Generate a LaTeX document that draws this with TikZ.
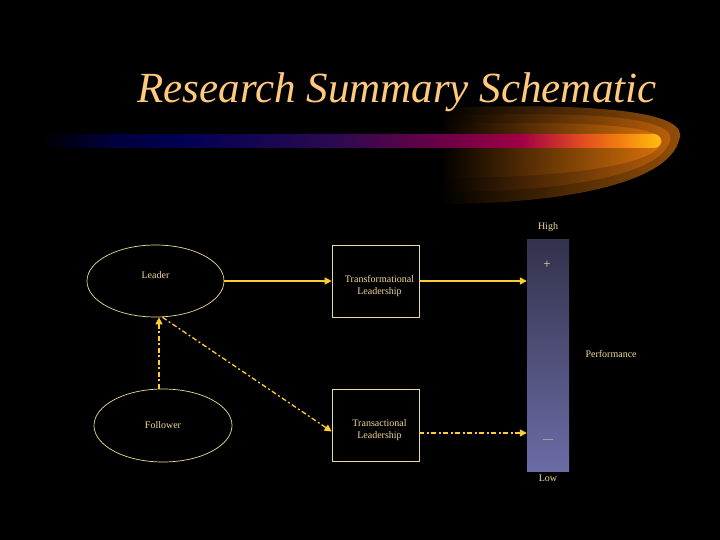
\documentclass[tikz,border=0pt]{standalone}
\usepackage{fontspec}
\setmainfont{Liberation Serif}
\usepackage{xcolor}
\usetikzlibrary{shapes.geometric,arrows.meta}

\definecolor{titlecol}{HTML}{FFC97E}
\definecolor{txtcol}{HTML}{F2D99A}
\definecolor{linecol}{HTML}{EEDB96}
\definecolor{arrcol}{HTML}{FFCC33}
\definecolor{bartop}{HTML}{32324C}
\definecolor{barbot}{HTML}{6C6CA6}
\definecolor{glowA}{HTML}{9A5208}
\definecolor{glowB}{HTML}{BE620A}
\definecolor{glowC}{HTML}{DA720A}
\definecolor{swnavyA}{HTML}{00003A}
\definecolor{swnavyB}{HTML}{000052}
\definecolor{swpurp}{HTML}{2A0A50}
\definecolor{swplum}{HTML}{700045}
\definecolor{swcrim}{HTML}{A00045}
\definecolor{swred}{HTML}{E04A20}
\definecolor{sworng}{HTML}{F58010}
\definecolor{swgold}{HTML}{FFBE10}

\pgfdeclarehorizontalshading{swoosh}{100bp}{color(0bp)=(black); color(25bp)=(black);
  color(30.6bp)=(swnavyA); color(36.3bp)=(swnavyB); color(48.4bp)=(swpurp);
  color(58bp)=(swplum); color(63.7bp)=(swcrim); color(68.5bp)=(swred);
  color(71.8bp)=(sworng); color(75bp)=(swgold); color(100bp)=(swgold)}

\begin{document}
\begin{tikzpicture}[x=1pt, y=-1pt,
    every node/.style={text=txtcol, font=\fontsize{10}{11.5}\selectfont, align=center},
    oval/.style={draw=linecol, ellipse, line width=0.7pt, inner sep=0pt},
    box/.style={draw=linecol, rectangle, line width=0.7pt, inner sep=0pt, minimum width=87pt, minimum height=72pt},
    arr/.style={draw=arrcol, line width=1.3pt, -{Triangle[length=7pt,width=7pt]}},
    darr/.style={arr, dash pattern=on 5pt off 2.5pt on 2pt off 2.5pt}]
    \fill[black] (0,0) rectangle (720,540);

    % swoosh and title
    \shade[left color=black, right color=glowA] (440,108) .. controls (600,102) and (692,112) .. (679,140)
        .. controls (668,184) and (560,204) .. (440,204) -- cycle;
    \shade[left color=black, right color=glowB] (440,116) .. controls (595,110) and (678,118) .. (670,141)
        .. controls (660,176) and (560,192) .. (440,192) -- cycle;
    \shade[left color=black, right color=glowC] (440,124) .. controls (590,120) and (664,126) .. (662,142)
        .. controls (656,166) and (560,178) .. (440,178) -- cycle;
    \shade[shading=swoosh, rounded corners=7pt] (40,134) rectangle (661,148);
    \node[text=titlecol, font=\fontsize{43}{48}\selectfont\itshape] (title) at (397,92) {Research Summary Schematic};

    % nodes
    \node[oval, minimum width=137pt, minimum height=72pt] (leader) at (155.5,281) {};
    \node at ([yshift=6pt]leader.center) {Leader};
    \node[oval, minimum width=138pt, minimum height=73pt] (follower) at (163,425.5) {};
    \node at (follower.center) {Follower};
    \node[box] (transf) at (375.5,281) {};
    \node at ([xshift=4pt,yshift=-5pt]transf.center) {Transformational\\Leadership};
    \node[box] (transc) at (375.5,425.5) {};
    \node at ([xshift=4pt,yshift=-4.5pt]transc.center) {Transactional\\Leadership};

    \node[rectangle, top color=bartop, bottom color=barbot, minimum width=42pt, minimum height=232pt, inner sep=0pt] (perf) at (548,355) {};
    \node (high) at (548,227) {High};
    \node (low) at (548,478) {Low};
    \node[font=\fontsize{13}{14}\selectfont] (plus) at (547,265) {+};
    \node (minus) at (548,441) {---};
    \node[anchor=west] (perflbl) at (582,354) {Performance};

    % connectors
    \coordinate (tcout) at ([yshift=-7.5pt]transc.east);
    \draw[arr] (leader) -- (transf);
    \draw[arr] (transf.east) -- (perf.west |- transf.east);
    \draw[darr] (tcout) -- (perf.west |- tcout);
    \draw[darr] ([xshift=-4pt]follower.north) -- ([xshift=3.5pt]leader.south);
    \draw[darr] ([xshift=7pt]leader.south) -- ([yshift=-6pt]transc.west);
\end{tikzpicture}
\end{document}
